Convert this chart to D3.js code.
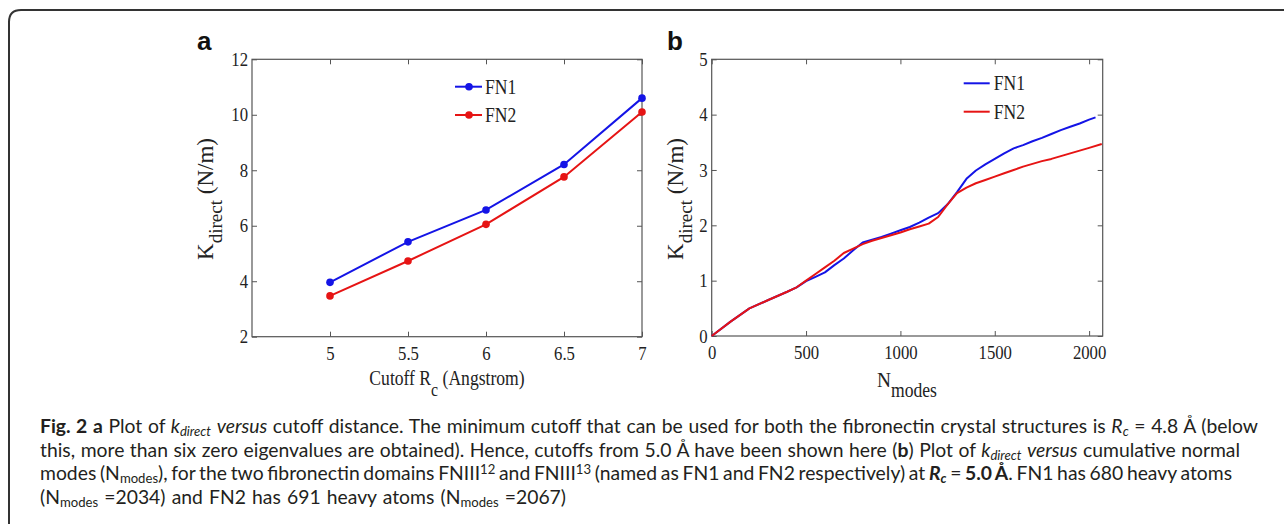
<!DOCTYPE html>
<html>
<head>
<meta charset="utf-8">
<style>
  body { margin: 0; background: #fff; }
  .cond  { transform-box: fill-box; transform-origin: 50% 50%;  transform: scaleX(0.88); }
  .condR { transform-box: fill-box; transform-origin: 100% 50%; transform: scaleX(0.88); }
  .condL { transform-box: fill-box; transform-origin: 0% 50%;   transform: scaleX(0.88); }
</style>
</head>
<body>
<div id="fig"></div>
<script src="https://d3js.org/d3.v7.min.js"></script>
<script>
// ---------------------------------------------------- data
// panel a : K_direct vs cutoff
var cutoff    = [5, 5.5, 6, 6.5, 7];
var kFN1a     = [3.96, 5.42, 6.57, 8.21, 10.6];
var kFN2a     = [3.47, 4.73, 6.05, 7.76, 10.1];
var cutoffTicks = [5, 5.5, 6, 6.5, 7];
var kTicksA     = [2, 4, 6, 8, 10, 12];

// panel b : cumulative K_direct vs N_modes
var modesFN1 = [0, 100, 200, 300, 400, 450, 500, 550, 600, 650, 700, 750, 800, 850, 900, 950, 1000,
                1050, 1100, 1150, 1200, 1250, 1300, 1350, 1400, 1450, 1500, 1550, 1600, 1650, 1700,
                1750, 1800, 1850, 1900, 1950, 2000, 2034];
var kFN1b    = [0, 0.26, 0.5, 0.65, 0.8, 0.88, 0.99, 1.07, 1.15, 1.28, 1.4, 1.55, 1.69, 1.74, 1.79, 1.85, 1.91,
                1.97, 2.05, 2.14, 2.22, 2.38, 2.6, 2.84, 2.99, 3.1, 3.2, 3.3, 3.39, 3.45, 3.52,
                3.58, 3.65, 3.72, 3.78, 3.84, 3.91, 3.95];
var modesFN2 = [0, 100, 200, 300, 400, 450, 500, 550, 600, 650, 700, 750, 800, 850, 900, 950, 1000,
                1050, 1100, 1150, 1200, 1250, 1300, 1350, 1400, 1450, 1500, 1550, 1600, 1650, 1700,
                1750, 1800, 1850, 1900, 1950, 2000, 2067];
var kFN2b    = [0, 0.26, 0.5, 0.65, 0.8, 0.88, 1.0, 1.12, 1.24, 1.36, 1.5, 1.58, 1.66, 1.72, 1.77, 1.82, 1.87,
                1.93, 1.98, 2.03, 2.15, 2.38, 2.58, 2.68, 2.76, 2.82, 2.88, 2.94, 3.0, 3.06, 3.11,
                3.16, 3.2, 3.25, 3.3, 3.35, 3.4, 3.47];
var modeTicks = [0, 500, 1000, 1500, 2000];
var kTicksB   = [0, 1, 2, 3, 4, 5];

var seriesNames = ["FN1", "FN2"];

// caption, one array per line: [text, style]  (b bold, i italic, bi bold italic, sub, sup)
var caption = [
  [["Fig. 2", "b"], [" ", ""], ["a", "b"], [" Plot of ", ""], ["k", "i"], ["direct", "isub"], [" ", ""], ["versus", "i"],
   [" cutoff distance. The minimum cutoff that can be used for both the fibronectin crystal structures is ", ""],
   ["R", "i"], ["c", "isub"], [" = 4.8 Å (below", ""]],
  [["this, more than six zero eigenvalues are obtained). Hence, cutoffs from 5.0 Å have been shown here (", ""], ["b", "b"],
   [") Plot of ", ""], ["k", "i"], ["direct", "isub"], [" ", ""], ["versus", "i"], [" cumulative normal", ""]],
  [["modes (N", ""], ["modes", "sub"], ["), for the two fibronectin domains FNIII", ""], ["12", "sup"], [" and FNIII", ""],
   ["13", "sup"], [" (named as FN1 and FN2 respectively) at ", ""], ["R", "bi"], ["c", "bisub"], [" = ", ""], ["5.0 Å", "b"],
   [". FN1 has 680 heavy atoms", ""]],
  [["(N", ""], ["modes", "sub"], [" =2034) and FN2 has 691 heavy atoms (N", ""], ["modes", "sub"], [" =2067)", ""]]
];
var captionWidths = [1218, 1200, 1192, 526];

// ---------------------------------------------------- setup
var width = 1284, height = 524;
var blue = "#1414e6", red = "#e61414", axisCol = "#555";
var serif = "'Liberation Serif', 'Times New Roman', serif";

var svg = d3.select("#fig").append("svg")
    .attr("width", width)
    .attr("height", height);

// figure frame (rounded, cut by the right/bottom edge)
svg.append("path")
    .attr("d", "M9,530 V22 Q9,10 21,10 H1300")
    .attr("fill", "none")
    .attr("stroke", "#333")
    .attr("stroke-width", 2);

function box(g, x, y, xt, yt, W, H) {
  var xa = g.append("g").attr("transform", "translate(0," + H + ")")
      .call(d3.axisBottom(x).tickValues(xt).tickSizeInner(-5).tickSizeOuter(0).tickPadding(10).tickFormat(d3.format("")));
  var ya = g.append("g")
      .call(d3.axisLeft(y).tickValues(yt).tickSizeInner(-5).tickSizeOuter(0).tickPadding(4).tickFormat(d3.format("")));
  var ta = g.append("g")
      .call(d3.axisTop(x).tickValues(xt).tickSizeInner(-5).tickSizeOuter(0).tickFormat(function () { return ""; }));
  var ra = g.append("g").attr("transform", "translate(" + W + ",0)")
      .call(d3.axisRight(y).tickValues(yt).tickSizeInner(-5).tickSizeOuter(0).tickFormat(function () { return ""; }));
  [xa, ya, ta, ra].forEach(function (a) {
    a.select(".domain").remove();
    a.selectAll("line").attr("stroke", axisCol);
    a.selectAll("text").style("font-family", serif).style("font-size", "19px").attr("fill", "#222");
  });
  xa.selectAll("text").attr("class", "cond");
  ya.selectAll("text").attr("class", "condR");
  g.append("rect")
      .attr("width", W).attr("height", H)
      .attr("fill", "none").attr("stroke", axisCol).attr("stroke-width", 1.2);
}

// ---------------------------------------------------- panel a
var A = {left: 252, top: 59.3, W: 390, H: 277.4};
var ga = svg.append("g").attr("transform", "translate(" + A.left + "," + A.top + ")");
var xa = d3.scaleLinear().domain([4.5, 7]).range([0, A.W]);
var ya = d3.scaleLinear().domain([2, 12]).range([A.H, 0]);
box(ga, xa, ya, cutoffTicks, kTicksA, A.W, A.H);

var lineA = d3.line().x(function (d) { return xa(d[0]); }).y(function (d) { return ya(d[1]); });
[[kFN1a, blue], [kFN2a, red]].forEach(function (s) {
  var pts = cutoff.map(function (c, i) { return [c, s[0][i]]; });
  ga.append("path").datum(pts)
      .attr("d", lineA).attr("fill", "none").attr("stroke", s[1]).attr("stroke-width", 2);
  ga.selectAll(null).data(pts).enter().append("circle")
      .attr("cx", function (d) { return xa(d[0]); })
      .attr("cy", function (d) { return ya(d[1]); })
      .attr("r", 3.8).attr("fill", s[1]);
});

// legend a
[blue, red].forEach(function (c, i) {
  var ly = 27.4 + i * 28.3;
  ga.append("line").attr("x1", 203).attr("x2", 230).attr("y1", ly).attr("y2", ly)
      .attr("stroke", c).attr("stroke-width", 2);
  ga.append("circle").attr("cx", 217).attr("cy", ly).attr("r", 3.8).attr("fill", c);
  ga.append("text").attr("class", "condL").attr("x", 233).attr("y", ly + 7)
      .style("font-family", serif).style("font-size", "20px").attr("fill", "#222")
      .text(seriesNames[i]);
});

// ---------------------------------------------------- panel b
var B = {left: 711.7, top: 59.3, W: 391, H: 276.7};
var gb = svg.append("g").attr("transform", "translate(" + B.left + "," + B.top + ")");
var xb = d3.scaleLinear().domain([0, 2072]).range([0, B.W]);
var yb = d3.scaleLinear().domain([0, 5]).range([B.H, 0]);
box(gb, xb, yb, modeTicks, kTicksB, B.W, B.H);

var lineB = d3.line().x(function (d) { return xb(d[0]); }).y(function (d) { return yb(d[1]); });
[[modesFN1, kFN1b, blue], [modesFN2, kFN2b, red]].forEach(function (s) {
  var pts = s[0].map(function (m, i) { return [m, s[1][i]]; });
  gb.append("path").datum(pts)
      .attr("d", lineB).attr("fill", "none").attr("stroke", s[2]).attr("stroke-width", 2)
      .attr("stroke-linejoin", "round");
});

// legend b
[blue, red].forEach(function (c, i) {
  var ly = 24 + i * 28.4;
  gb.append("line").attr("x1", 252).attr("x2", 278).attr("y1", ly).attr("y2", ly)
      .attr("stroke", c).attr("stroke-width", 2);
  gb.append("text").attr("class", "condL").attr("x", 282).attr("y", ly + 7)
      .style("font-family", serif).style("font-size", "20px").attr("fill", "#222")
      .text(seriesNames[i]);
});

// ---------------------------------------------------- axis labels + panel letters
function ylab(x, y) {
  var t = svg.append("text")
      .attr("transform", "translate(" + x + "," + y + ") rotate(-90)")
      .attr("text-anchor", "middle")
      .style("font-family", serif).style("font-size", "23px").attr("fill", "#222");
  t.append("tspan").text("K");
  t.append("tspan").attr("dy", 9).style("font-size", "19px").text("direct");
  t.append("tspan").attr("dy", -9).text(" (N/m)");
}
ylab(213, 199);
ylab(683, 199);

var xlabA = svg.append("text").attr("class", "cond")
    .attr("x", 447).attr("y", 385).attr("text-anchor", "middle")
    .style("font-family", serif).style("font-size", "20px").attr("fill", "#222");
xlabA.append("tspan").text("Cutoff R");
xlabA.append("tspan").attr("dy", 11).style("font-size", "18px").text("c");
xlabA.append("tspan").attr("dy", -11).text(" (Angstrom)");

var xlabB = svg.append("text").attr("class", "cond")
    .attr("x", 907).attr("y", 387).attr("text-anchor", "middle")
    .style("font-family", serif).style("font-size", "22px").attr("fill", "#222");
xlabB.append("tspan").text("N");
xlabB.append("tspan").attr("dy", 10).style("font-size", "20px").text("modes");

svg.append("text").attr("x", 197).attr("y", 50)
    .style("font-family", "'Liberation Sans', Arial, sans-serif").style("font-size", "26px")
    .style("font-weight", "bold").attr("fill", "#111").text("a");
svg.append("text").attr("x", 667).attr("y", 50)
    .style("font-family", "'Liberation Sans', Arial, sans-serif").style("font-size", "26px")
    .style("font-weight", "bold").attr("fill", "#111").text("b");

// ---------------------------------------------------- caption
var capFont = "Lato, 'Open Sans', sans-serif";
var capG = svg.append("g");

function drawCaption(fs) {
  capG.selectAll("*").remove();
  var base = [433, 456.5, 480, 503.5];
  var nodes = [];
  caption.forEach(function (line, li) {
    var t = capG.append("text").attr("x", 40).attr("y", base[li])
        .style("font-family", capFont).style("font-size", fs + "px").attr("fill", "#231f20");
    var shift = 0;
    line.forEach(function (seg) {
      var st = seg[1];
      var target = st.indexOf("sub") >= 0 ? fs * 0.18 : (st.indexOf("sup") >= 0 ? -fs * 0.33 : 0);
      var sp = t.append("tspan").attr("dy", target - shift).text(seg[0]);
      shift = target;
      if (st.indexOf("sub") >= 0 || st.indexOf("sup") >= 0) sp.style("font-size", (fs * 0.68) + "px");
      if (st.indexOf("b") === 0) sp.style("font-weight", "bold");
      if (st.indexOf("i") >= 0) sp.style("font-style", "italic");
    });
    nodes.push(t.node());
  });
  return nodes;
}
// fit the size on the three full lines together, then even out each line with word spacing
var n0 = drawCaption(16);
var sumW = 0, sumT = 0;
for (var i = 0; i < 3; i++) { sumW += n0[i].getComputedTextLength(); sumT += captionWidths[i]; }
var capNodes = drawCaption(16 * sumT / sumW);
capNodes.forEach(function (node, i) {
  var w = node.getComputedTextLength();
  var spaces = (node.textContent.match(/ /g) || []).length;
  d3.select(node).style("word-spacing", ((captionWidths[i] - w) / spaces) + "px");
});
</script>
</body>
</html>
